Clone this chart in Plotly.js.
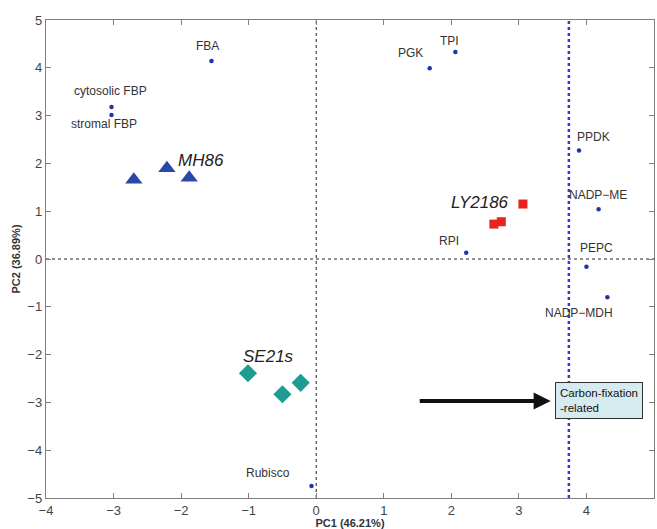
<!DOCTYPE html>
<html>
<head>
<meta charset="utf-8">
<script src="https://cdn.plot.ly/plotly-3.0.1.min.js"></script>
<style>html,body{margin:0;padding:0;background:#fff;}#chart{width:657px;height:529px;}</style>
</head>
<body>
<div id="chart"></div>
<script>
// ---- data ----
const enzymeNames = ['FBA','cytosolic FBP','stromal FBP','TPI','PGK','PPDK','NADP\u2212ME','RPI','PEPC','NADP\u2212MDH','Rubisco'];
const enzymePC1 = [-1.55, -3.03, -3.03, 2.06, 1.68, 3.89, 4.18, 2.22, 4.00, 4.31, -0.07];
const enzymePC2 = [4.14, 3.18, 3.01, 4.33, 3.99, 2.27, 1.04, 0.13, -0.16, -0.80, -4.75];

const mh86PC1 = [-2.70, -2.21, -1.88];
const mh86PC2 = [1.66, 1.90, 1.70];
const ly2186PC1 = [3.06, 2.63, 2.74];
const ly2186PC2 = [1.15, 0.73, 0.78];
const se21sPC1 = [-1.01, -0.50, -0.23];
const se21sPC2 = [-2.39, -2.83, -2.59];

const cutoffPC1 = 3.74;
const boxText = 'Carbon-fixation<br>-related';
const boxPC1 = 4.18, boxPC2 = -2.97;
const arrowTailPC1 = 1.51, arrowHeadPC1 = 3.47;

// label offsets (pixels) for enzyme labels
const labelDX = [-4, -1, -8, -6, -19, 14, -1, -17, 10, -28, -43];
const labelDY = [15, 16, -9, 11, 15, 13, 14, 12, 19, -16, 13];

const traces = [
  {x:[0,0], y:[-5,5], mode:'lines', line:{color:'#222', width:1, dash:'dot'}, hoverinfo:'skip'},
  {x:[-4,5], y:[0,0], mode:'lines', line:{color:'#222', width:1, dash:'dot'}, hoverinfo:'skip'},
  {x:[cutoffPC1,cutoffPC1], y:[-5,5], mode:'lines', line:{color:'#3a3ad0', width:2.5, dash:'dot'}, hoverinfo:'skip'},
  {x:enzymePC1, y:enzymePC2, mode:'markers', marker:{color:'#2233aa', size:4.5}},
  {x:mh86PC1, y:mh86PC2, mode:'markers', marker:{symbol:'triangle-up', color:'#2a48a8', size:15}},
  {x:ly2186PC1, y:ly2186PC2, mode:'markers', marker:{symbol:'square', color:'#e8231f', size:9}},
  {x:se21sPC1, y:se21sPC2, mode:'markers', marker:{symbol:'diamond', color:'#1e9b93', size:14}}
];

const annotations = enzymeNames.map((n,i)=>({
  x:enzymePC1[i], y:enzymePC2[i], text:n, showarrow:false,
  xshift:labelDX[i], yshift:labelDY[i],
  font:{family:'Liberation Sans, Arial, sans-serif', size:12, color:'#333'}
}));
const groupFont = {family:'Liberation Sans, Arial, sans-serif', size:17, color:'#222', style:'italic'};
annotations.push({x:mh86PC1[1], y:mh86PC2[1], text:'<i>MH86</i>', showarrow:false, xshift:34, yshift:8, font:groupFont});
annotations.push({x:ly2186PC1[0], y:ly2186PC2[0], text:'<i>LY2186</i>', showarrow:false, xshift:-43, yshift:2, font:groupFont});
annotations.push({x:se21sPC1[0], y:se21sPC2[0], text:'<i>SE21s</i>', showarrow:false, xshift:21, yshift:17, font:groupFont});
annotations.push({x:arrowHeadPC1, y:boxPC2, ax:arrowTailPC1, ay:boxPC2, axref:'x', ayref:'y', xref:'x', yref:'y',
  text:'', showarrow:true, arrowhead:2, arrowsize:0.85, arrowwidth:4, arrowcolor:'#111'});
annotations.push({x:boxPC1, y:boxPC2, text:boxText, showarrow:false, align:'left',
  bgcolor:'#d6ebef', bordercolor:'#333', borderwidth:1, borderpad:4,
  font:{family:'Liberation Sans, Arial, sans-serif', size:11.5, color:'#111'}});

const axisCommon = {
  showgrid:false, zeroline:false, showline:true, linecolor:'#7f7f7f', linewidth:1.2, mirror:'ticks',
  ticks:'inside', ticklen:5, tickcolor:'#7f7f7f', tickfont:{family:'Liberation Sans, Arial, sans-serif', size:13, color:'#444'}
};
const layout = {
  width:657, height:529, showlegend:false,
  paper_bgcolor:'#fff', plot_bgcolor:'#fff',
  margin:{l:46, r:3, t:20, b:31},
  xaxis:Object.assign({}, axisCommon, {range:[-4,5], dtick:1, tickformat:'d', ticklabelstandoff:0,
    title:{text:'<b>PC1 (46.21%)</b>', standoff:1, font:{family:'Liberation Sans, Arial, sans-serif', size:11, color:'#333'}}}),
  yaxis:Object.assign({}, axisCommon, {range:[-5,5], dtick:1,
    title:{text:'<b>PC2 (36.89%)</b>', standoff:4, font:{family:'Liberation Sans, Arial, sans-serif', size:11, color:'#333'}}}),
  annotations:annotations
};
Plotly.newPlot('chart', traces, layout, {displayModeBar:false, staticPlot:true});
</script>
</body>
</html>
